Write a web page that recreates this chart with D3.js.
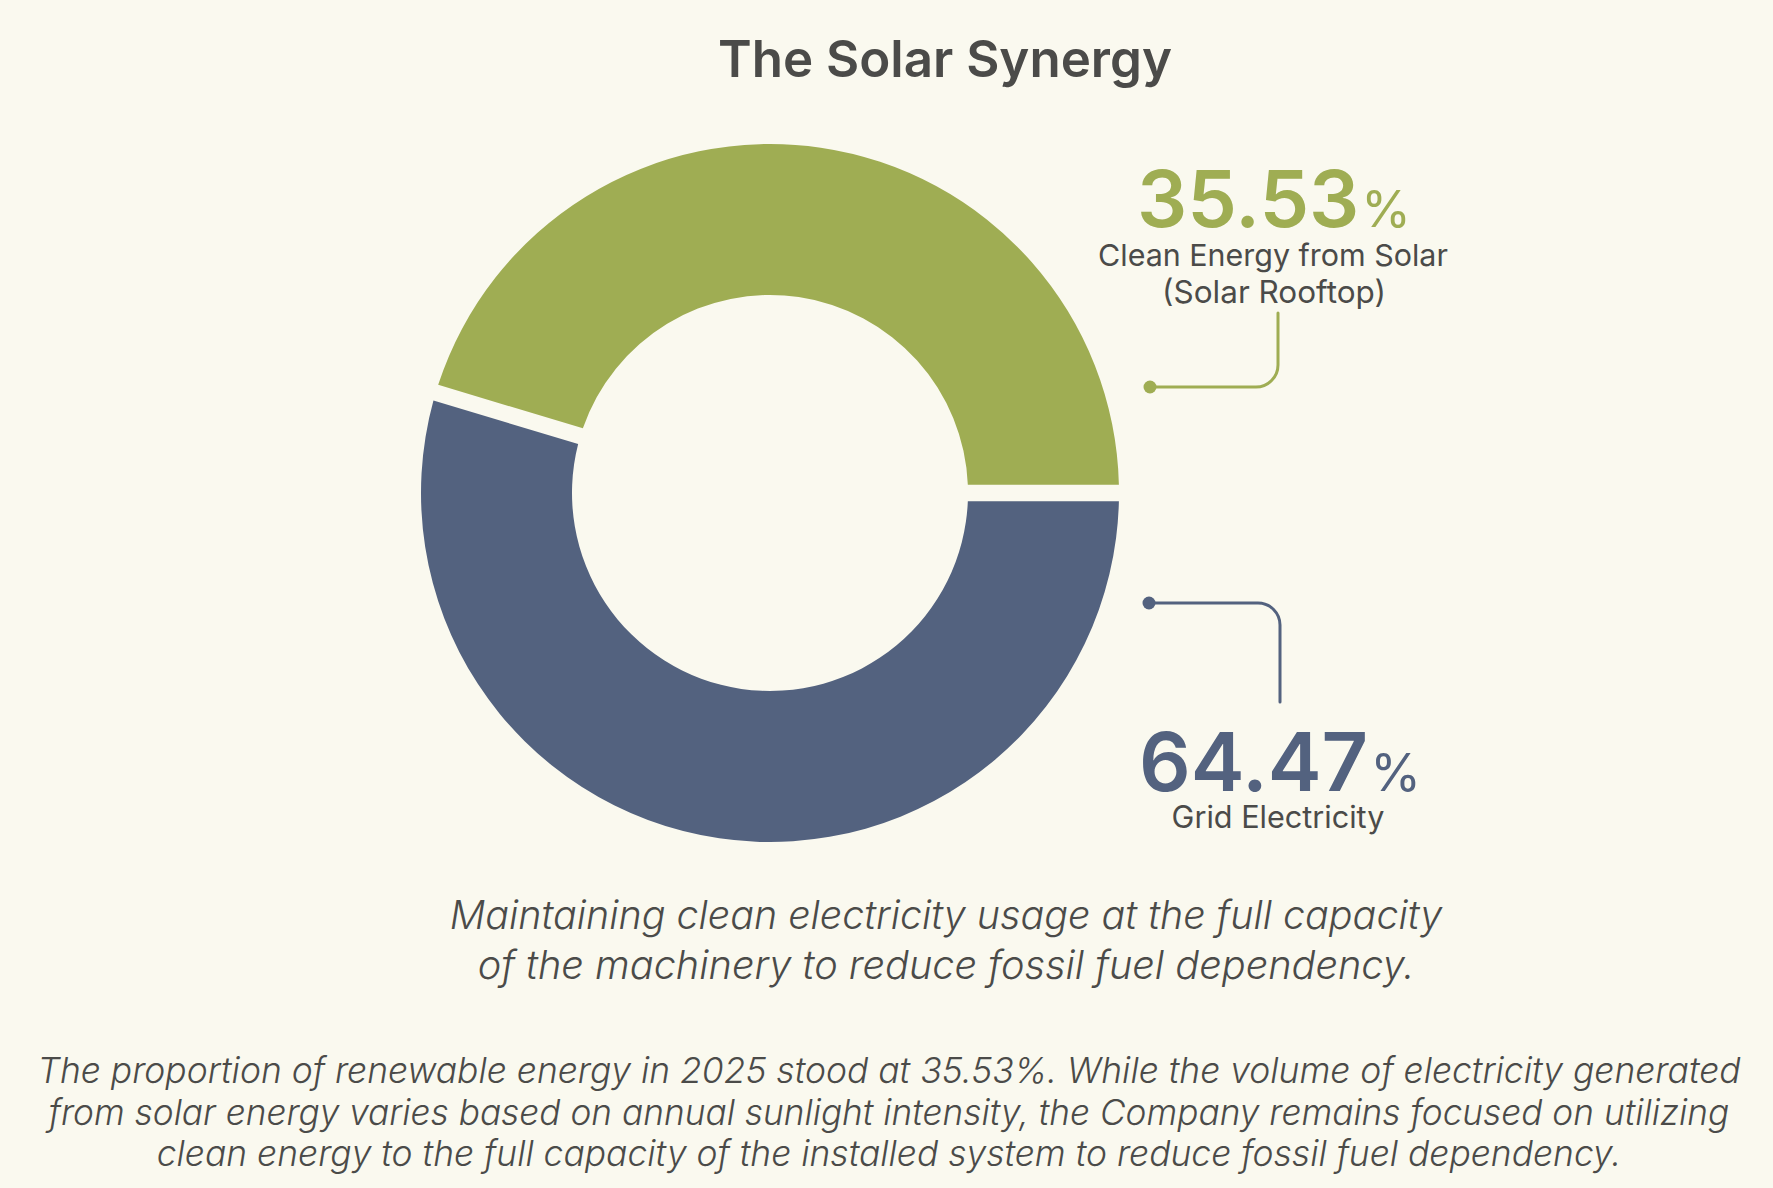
<!DOCTYPE html>
<html>
<head>
<meta charset="utf-8">
<script src="https://cdn.jsdelivr.net/npm/d3@7"></script>
<style>
  html, body { margin: 0; padding: 0; background: #faf9ef; }
  svg { display: block; }
</style>
</head>
<body>
<div id="chart"></div>
<script>
// ---------- data ----------
const title = "The Solar Synergy";
const categories = ["Clean Energy from Solar", "Grid Electricity"];
const categorySubLabels = ["(Solar Rooftop)", ""];
const sharePct = [35.53, 64.47];            // printed values
// arc sizes as actually drawn in the reference infographic (not to scale with the printed values)
const arcShare = [45.3, 54.7];
const colors = ["#9fad53", "#53627f"];
const subtitleLines = [
  "Maintaining clean electricity usage at the full capacity",
  "of the machinery to reduce fossil fuel dependency."
];
const noteLines = [
  "The proportion of renewable energy in 2025 stood at 35.53%. While the volume of electricity generated",
  "from solar energy varies based on annual sunlight intensity, the Company remains focused on utilizing",
  "clean energy to the full capacity of the installed system to reduce fossil fuel dependency."
];

// ---------- layout ----------
const W = 1773, H = 1188;
const textColor = "#4b4b49";
const svg = d3.select("#chart").append("svg").attr("width", W).attr("height", H);
svg.append("rect").attr("width", W).attr("height", H).attr("fill", "#faf9ef");

function fit(sel, target) {
  const n = sel.node();
  const fs = parseFloat(sel.attr("font-size"));
  const w = n.getComputedTextLength();
  if (w > 0) sel.attr("font-size", fs * target / w);
}

// title
const t = svg.append("text").attr("x", 945).attr("y", 77).attr("text-anchor", "middle")
  .attr("font-family", "Inter, sans-serif").attr("font-weight", 600).attr("font-size", 50)
  .attr("fill", textColor).text(title);
fit(t, 454);

// donut
const cx = 770, cy = 493, rOuter = 349, rInner = 198;
const pieData = categories.map((c, i) => ({ cat: c, arc: arcShare[i], color: colors[i] }));
// grid first from 3 o'clock clockwise, then solar back up to 3 o'clock
const order = [1, 0];
const pie = d3.pie().sort(null).value(d => d.arc)
  .startAngle(Math.PI / 2).endAngle(Math.PI / 2 + 2 * Math.PI).padAngle(0.041);
const arcs = pie(order.map(i => pieData[i]));
const arcGen = d3.arc().innerRadius(rInner).outerRadius(rOuter);
svg.append("g").attr("transform", `translate(${cx},${cy})`)
  .selectAll("path").data(arcs).join("path")
  .attr("d", arcGen).attr("fill", d => d.data.color);

// connectors
const cr = 22;
svg.append("path").attr("fill", "none").attr("stroke", colors[0]).attr("stroke-width", 3)
  .attr("stroke-linecap", "round")
  .attr("d", `M1150,387 H${1278 - cr} A${cr},${cr} 0 0 0 1278,${387 - cr} V313`);
svg.append("circle").attr("cx", 1150).attr("cy", 387).attr("r", 6.5).attr("fill", colors[0]);
svg.append("path").attr("fill", "none").attr("stroke", colors[1]).attr("stroke-width", 3)
  .attr("stroke-linecap", "round")
  .attr("d", `M1149,603 H${1280 - cr} A${cr},${cr} 0 0 1 1280,${603 + cr} V702`);
svg.append("circle").attr("cx", 1149).attr("cy", 603).attr("r", 6.5).attr("fill", colors[1]);

// value labels
function valueLabel(x, y, pct, color, targetW) {
  const txt = svg.append("text").attr("x", x).attr("y", y).attr("text-anchor", "middle")
    .attr("font-family", "Inter, sans-serif").attr("font-weight", 600).attr("font-size", 82)
    .attr("fill", color);
  txt.append("tspan").text(pct.toFixed(2));
  txt.append("tspan").attr("font-size", "0.64em").attr("font-weight", 400).attr("dx", 2).text("%");
  const w = txt.node().getComputedTextLength();
  txt.attr("font-size", 82 * targetW / w);
  return txt;
}
valueLabel(1274, 227, sharePct[0], colors[0], 272);
valueLabel(1280, 791, sharePct[1], colors[1], 280);

function plainLabel(x, y, s, target) {
  const el = svg.append("text").attr("x", x).attr("y", y).attr("text-anchor", "middle")
    .attr("font-family", "Inter, sans-serif").attr("font-weight", 400).attr("font-size", 28)
    .attr("fill", textColor).text(s);
  fit(el, target);
}
plainLabel(1273, 266, categories[0], 350);
plainLabel(1274, 303, categorySubLabels[0], 224);
plainLabel(1278, 828, categories[1], 213);

// subtitle
const subW = [993, 937];
const subY = [929, 979];
subtitleLines.forEach((s, i) => {
  const el = svg.append("text").attr("x", 946).attr("y", subY[i]).attr("text-anchor", "middle")
    .attr("font-family", "Inter, sans-serif").attr("font-weight", 300).attr("font-style", "italic")
    .attr("font-size", 36).attr("fill", textColor).text(s);
  fit(el, subW[i]);
});

// note
const noteW = [1704, 1681, 1465];
const noteY = [1083, 1125, 1166];
noteLines.forEach((s, i) => {
  const el = svg.append("text").attr("x", 889).attr("y", noteY[i]).attr("text-anchor", "middle")
    .attr("font-family", "Inter, sans-serif").attr("font-weight", 300).attr("font-style", "italic")
    .attr("font-size", 32).attr("fill", textColor).text(s);
  fit(el, noteW[i]);
});
</script>
</body>
</html>
